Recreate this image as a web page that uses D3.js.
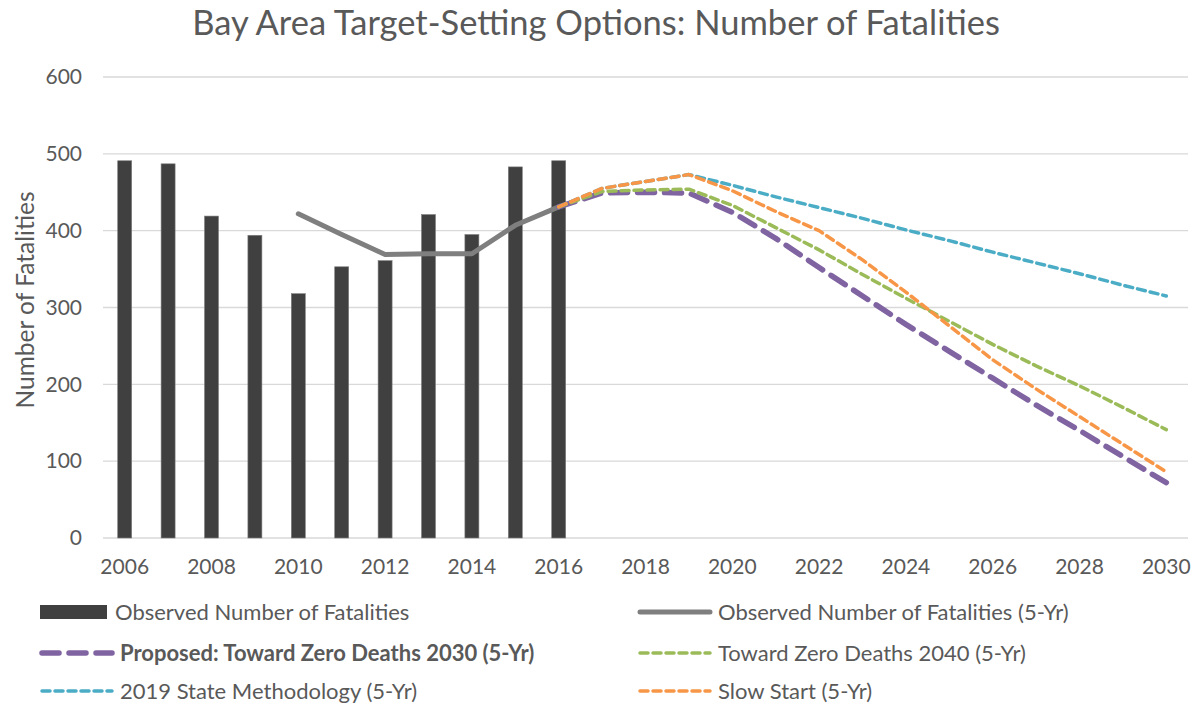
<!DOCTYPE html>
<html>
<head>
<meta charset="utf-8">
<script src="https://cdnjs.cloudflare.com/ajax/libs/d3/7.8.5/d3.min.js"></script>
<style>
  body { margin: 0; background: #fff; }
  text { font-family: Lato, "Open Sans", sans-serif; fill: #595959; }
</style>
</head>
<body>
<script>
var width = 1198;
var height = 704;
var margin = {top: 77, right: 10, bottom: 166, left: 103};

// years on the category axis
var years = d3.range(2006, 2031);
var tickYears = years.filter(function(y) { return (y - 2006) % 2 === 0; });
var yTicks = [0, 100, 200, 300, 400, 500, 600];

// observed yearly fatalities
var obsYears = [2006, 2007, 2008, 2009, 2010, 2011, 2012, 2013, 2014, 2015, 2016];
var observed = [491, 487, 419, 394, 318, 353, 361, 421, 395, 483, 491];

// 5-yr rolling observed
var rollYears = [2010, 2011, 2012, 2013, 2014, 2015, 2016];
var rolling = [422, 395, 369, 370, 370, 407, 431];

// projections
var projYears = [2016, 2017, 2018, 2019, 2020, 2021, 2022, 2023, 2024, 2025, 2026, 2027, 2028, 2029, 2030];
var tzd2030 = [431, 449, 450, 449, 424, 390, 352, 315, 278, 243, 208, 173, 140, 106, 72];
var tzd2040 = [431, 451, 453, 454, 433, 404, 375, 343, 312, 282, 252, 224, 198, 170, 141];
var state2019 = [431, 455, 464, 473, 459, 444, 430, 416, 401, 387, 372, 358, 344, 329, 315];
var slowStart = [431, 455, 464, 473, 452, 425, 400, 362, 320, 276, 232, 194, 158, 122, 86];

var w = width - margin.left - margin.right;
var h = height - margin.top - margin.bottom;

var svg = d3.select("body").append("svg")
    .attr("width", width)
    .attr("height", height);

var chart = svg.append("g")
    .attr("transform", "translate(" + margin.left + "," + margin.top + ")");

var x = d3.scaleBand()
    .domain(years)
    .range([0, w]);

var y = d3.scaleLinear()
    .domain([0, 600])
    .range([h, 0]);

// gridlines
chart.append("g")
    .selectAll("line")
    .data(yTicks)
    .enter().append("line")
    .attr("x1", 0)
    .attr("x2", w)
    .attr("y1", function(d) { return y(d); })
    .attr("y2", function(d) { return y(d); })
    .style("stroke", "#d9d9d9")
    .style("stroke-width", 1.3);

// y axis labels
var yAxis = chart.append("g")
    .attr("transform", "translate(-21,0)")
    .call(d3.axisLeft(y).tickValues(yTicks).tickSize(0).tickPadding(0));
yAxis.select(".domain").remove();
yAxis.selectAll("text")
    .style("font-size", "21px")
    .style("fill", "#595959")
    .style("font-family", "Lato, sans-serif");

// x axis labels
var xAxis = chart.append("g")
    .attr("transform", "translate(0," + h + ")")
    .call(d3.axisBottom(x).tickValues(tickYears).tickSize(0).tickPadding(21));
xAxis.select(".domain").remove();
xAxis.selectAll("text")
    .style("font-size", "21px")
    .style("fill", "#595959")
    .style("font-family", "Lato, sans-serif");

// bars
var barW = 14;
chart.selectAll("rect.bar")
    .data(obsYears)
    .enter().append("rect")
    .attr("class", "bar")
    .attr("x", function(d) { return x(d) + x.bandwidth() / 2 - barW / 2; })
    .attr("y", function(d, i) { return y(observed[i]); })
    .attr("width", barW)
    .attr("height", function(d, i) { return h - y(observed[i]); })
    .style("fill", "#404040")
    .style("stroke", "#7f7f7f")
    .style("stroke-width", 0.6);

var line = d3.line()
    .x(function(d) { return x(d[0]) + x.bandwidth() / 2; })
    .y(function(d) { return y(d[1]); });

function zipYears(ys, vs) { return ys.map(function(yr, i) { return [yr, vs[i]]; }); }

var series = [
  {name: "Observed Number of Fatalities (5-Yr)", years: rollYears, values: rolling, color: "#7f7f7f", width: 5, dash: null},
  {name: "2019 State Methodology (5-Yr)", years: projYears, values: state2019, color: "#4bacc6", width: 3.5, dash: "8,5"},
  {name: "Toward Zero Deaths 2040 (5-Yr)", years: projYears, values: tzd2040, color: "#9bbb59", width: 3.5, dash: "8,5"},
  {name: "Slow Start (5-Yr)", years: projYears, values: slowStart, color: "#f79646", width: 3.5, dash: "8,5"},
  {name: "Proposed: Toward Zero Deaths 2030 (5-Yr)", years: projYears, values: tzd2030, color: "#8064a2", width: 5.5, dash: "17,10"}
];

// draw purple under the others so the thinner lines show on top near the start
var drawOrder = [0, 4, 1, 2, 3];
drawOrder.forEach(function(k) {
  var s = series[k];
  chart.append("path")
      .datum(zipYears(s.years, s.values))
      .attr("d", line)
      .style("fill", "none")
      .style("stroke", s.color)
      .style("stroke-width", s.width)
      .style("stroke-linecap", "round")
      .style("stroke-linejoin", "round")
      .style("stroke-dasharray", s.dash);
});

// title
svg.append("text")
    .attr("x", 596)
    .attr("y", 35)
    .attr("text-anchor", "middle")
    .style("font-size", "34.5px")
    .text("Bay Area Target-Setting Options: Number of Fatalities");

// y axis title
svg.append("text")
    .attr("transform", "translate(34,300) rotate(-90)")
    .attr("text-anchor", "middle")
    .style("font-size", "24.5px")
    .text("Number of Fatalities");

// legend
var legend = [
  {label: "Observed Number of Fatalities", type: "bar", x: 40, y: 612},
  {label: "Observed Number of Fatalities (5-Yr)", s: series[0], x: 638, y: 612},
  {label: "Proposed: Toward Zero Deaths 2030 (5-Yr)", s: series[4], x: 40, y: 653, bold: true},
  {label: "Toward Zero Deaths 2040 (5-Yr)", s: series[2], x: 638, y: 653},
  {label: "2019 State Methodology (5-Yr)", s: series[1], x: 40, y: 691},
  {label: "Slow Start (5-Yr)", s: series[3], x: 638, y: 691}
];

var lg = svg.append("g");
legend.forEach(function(d) {
  if (d.type === "bar") {
    lg.append("rect")
        .attr("x", d.x)
        .attr("y", d.y - 7)
        .attr("width", 67)
        .attr("height", 14)
        .style("fill", "#404040");
  } else {
    lg.append("line")
        .attr("x1", d.x + 2)
        .attr("x2", d.x + 72)
        .attr("y1", d.y)
        .attr("y2", d.y)
        .style("stroke", d.s.color)
        .style("stroke-width", d.s.width)
        .style("stroke-linecap", "round")
        .style("stroke-dasharray", d.s.dash);
  }
  lg.append("text")
      .attr("x", d.type === "bar" ? 115 : d.x + 80)
      .attr("y", d.y)
      .attr("dy", "0.35em")
      .style("font-size", "22px")
      .style("font-weight", d.bold ? "bold" : "normal")
      .text(d.label);
});
</script>
</body>
</html>
